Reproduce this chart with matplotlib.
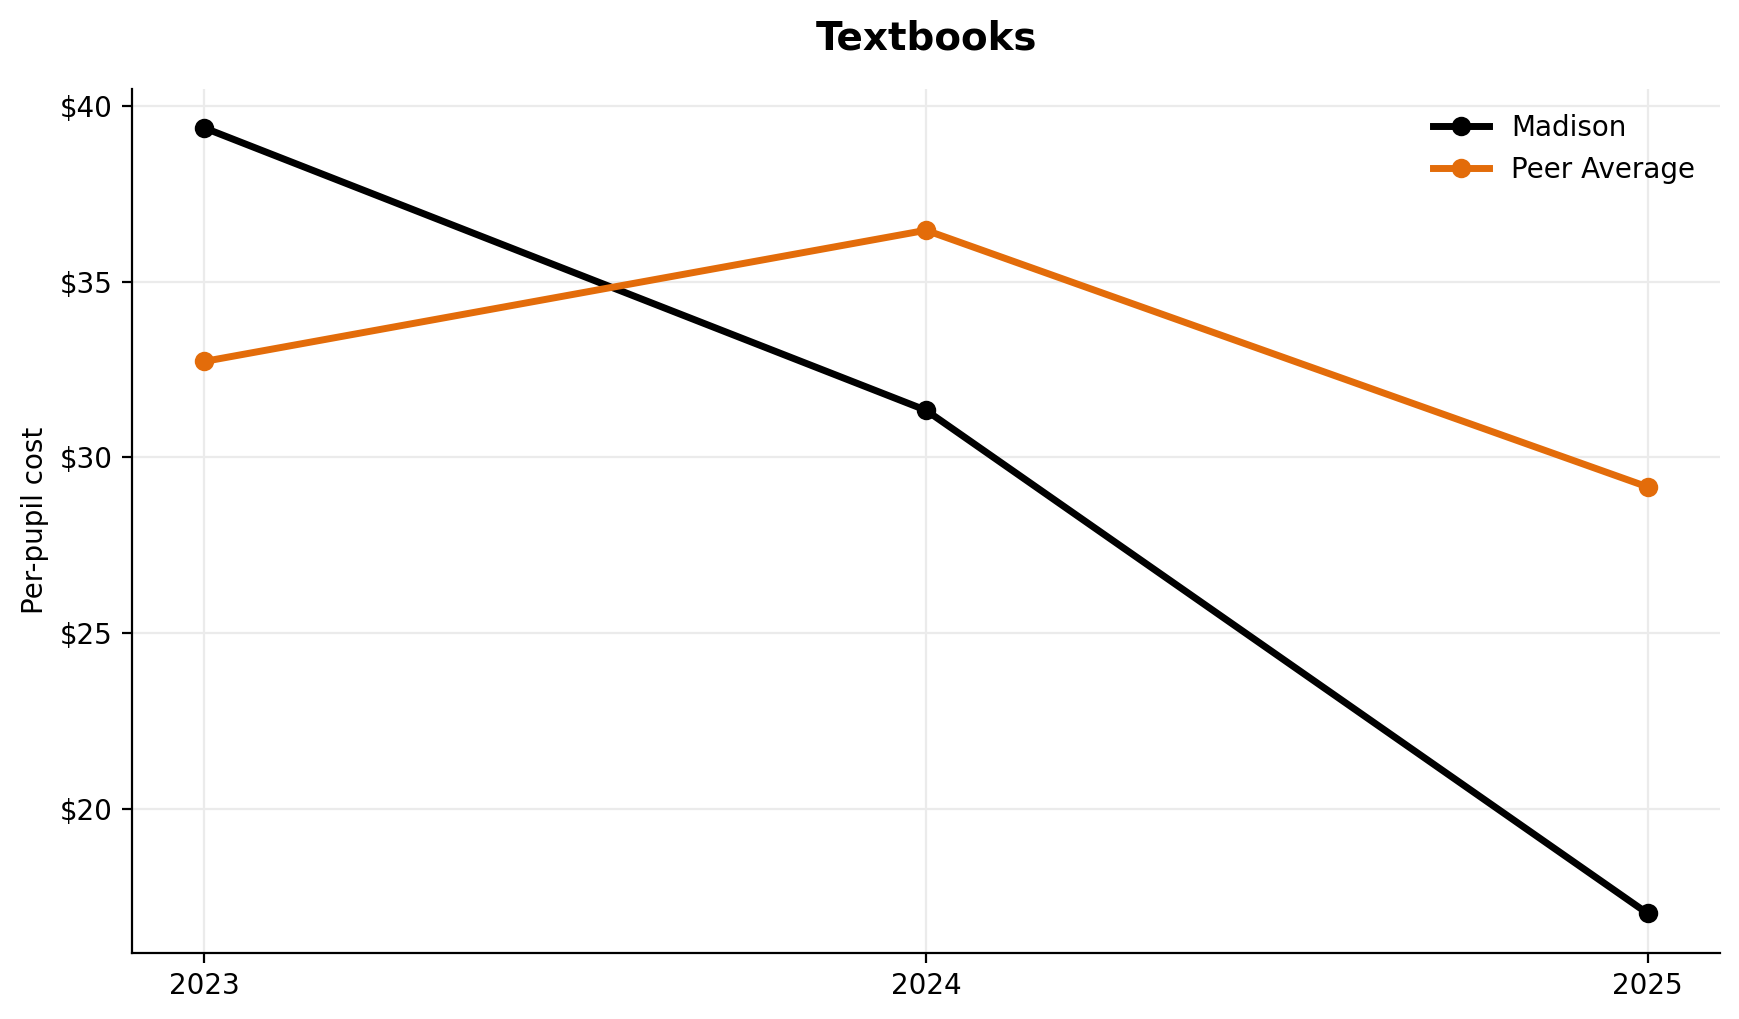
import numpy as np
import matplotlib
matplotlib.use('Agg')
import matplotlib.pyplot as plt
from matplotlib.ticker import FuncFormatter

years = [2023, 2024, 2025]
madison = [39.37, 31.34, 17.03]
peer_avg = [32.73, 36.46, 29.16]


def main():
    fig, ax = plt.subplots(figsize=(8.695, 5.095), dpi=200)
    ax.plot(years, madison, color='black', lw=2.5, marker='o', ms=6, label='Madison')
    ax.plot(years, peer_avg, color='#E36C0A', lw=2.5, marker='o', ms=6, label='Peer Average')

    ax.set_title('Textbooks', fontsize=14, fontweight='bold', pad=14)
    ax.set_ylabel('Per-pupil cost', fontsize=10)
    ax.set_xticks(years)
    ax.set_xticklabels([str(y) for y in years])
    ax.yaxis.set_major_formatter(FuncFormatter(lambda v, p: '$%d' % v))
    ax.tick_params(labelsize=10)
    ax.grid(True, color='#ebebeb', lw=0.8)
    ax.set_axisbelow(True)
    for s in ['top', 'right']:
        ax.spines[s].set_visible(False)
    ax.legend(frameon=False, fontsize=10, loc='upper right')

    fig.subplots_adjust(left=0.076, right=0.989, top=0.913, bottom=0.065)
    fig.savefig('out.png', dpi=200)


if __name__ == "__main__":
    main()
